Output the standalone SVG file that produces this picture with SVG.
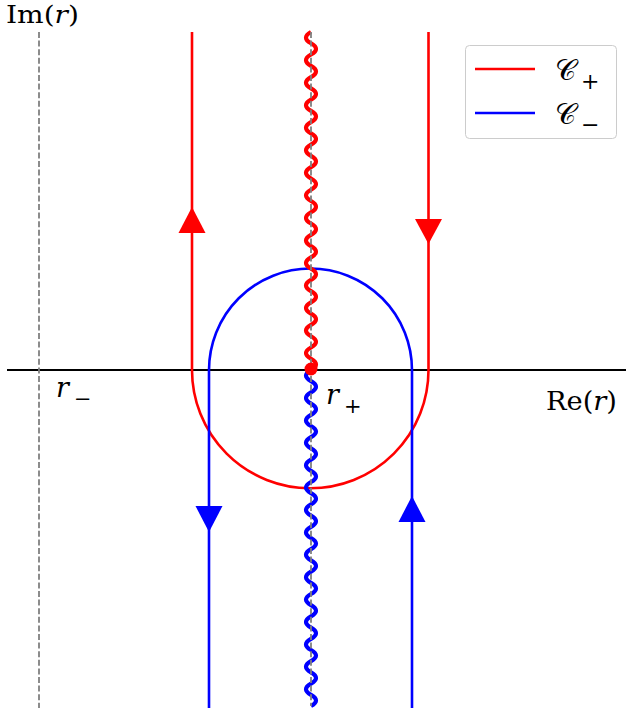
<svg xmlns="http://www.w3.org/2000/svg" width="626" height="715" viewBox="0 0 626 715">
<style>
.lab{font-family:"DejaVu Serif","Liberation Serif",serif;fill:#000}
.it{font-style:italic}
.red{stroke:#ff0000;fill:none;stroke-width:2.6}
.blue{stroke:#0000ff;fill:none;stroke-width:2.6}
.wave{fill:none;stroke-width:4.2}
.gdash{stroke:#808080;stroke-width:1.8;stroke-dasharray:6 2.6;fill:none}
</style>
<rect width="626" height="715" fill="#ffffff"/>
<g id="axes">
<line x1="7" y1="370" x2="626" y2="370" stroke="#000" stroke-width="2"/>
<line class="gdash" x1="39" y1="32" x2="39" y2="708"/>
</g>
<g id="connectors">
<path id="c-plus" class="red" d="M192 32 V370 A118.25 118.25 0 0 0 428.5 370 V32"/>
<path id="c-minus" class="blue" d="M209 708 V370 A101.5 101.5 0 0 1 412 370 V708"/>
<polygon fill="#ff0000" points="192,207 178.5,233 205.5,233"/>
<polygon fill="#ff0000" points="428.5,244 415,219 442,219"/>
<polygon fill="#0000ff" points="209,532 195.5,506 222.5,506"/>
<polygon fill="#0000ff" points="412,496 398.5,522 425.5,522"/>
</g>
<g id="branch-cut">
<path class="wave" stroke="#ff0000" d="M311 32 q-10 5.633 0 11.267 t0 11.267 t0 11.267 t0 11.267 t0 11.267 t0 11.267 t0 11.267 t0 11.267 t0 11.267 t0 11.267 t0 11.267 t0 11.267 t0 11.267 t0 11.267 t0 11.267 t0 11.267 t0 11.267 t0 11.267 t0 11.267 t0 11.267 t0 11.267 t0 11.267 t0 11.267 t0 11.267 t0 11.267 t0 11.267 t0 11.267 t0 11.267 t0 11.267 t0 11.267"/>
<path class="wave" stroke="#0000ff" d="M311 370 q-10 5.6 0 11.2 t0 11.2 t0 11.2 t0 11.2 t0 11.2 t0 11.2 t0 11.2 t0 11.2 t0 11.2 t0 11.2 t0 11.2 t0 11.2 t0 11.2 t0 11.2 t0 11.2 t0 11.2 t0 11.2 t0 11.2 t0 11.2 t0 11.2 t0 11.2 t0 11.2 t0 11.2 t0 11.2 t0 11.2 t0 11.2 t0 11.2 t0 11.2 t0 11.2 t0 11.2"/>
<line class="gdash" x1="311" y1="32" x2="311" y2="706" stroke-width="1.5"/>
<circle cx="311" cy="369" r="6.5" fill="#ff0000"/>
</g>
<g id="labels">
<text class="lab" x="6" y="23" font-size="24" textLength="73" lengthAdjust="spacingAndGlyphs">Im(<tspan class="it">r</tspan>)</text>
<text class="lab" x="546" y="410" font-size="26" textLength="71" lengthAdjust="spacingAndGlyphs">Re(<tspan class="it">r</tspan>)</text>
<text class="lab it" x="56" y="397" font-size="27">r</text>
<text class="lab" x="74" y="406" font-size="21">−</text>
<text class="lab it" x="326" y="404" font-size="27">r</text>
<text class="lab" x="344" y="413" font-size="21">+</text>
</g>
<g id="legend">
<rect x="465.5" y="45.5" width="151" height="93" rx="4" fill="#ffffff" fill-opacity="0.8" stroke="#cccccc" stroke-width="1"/>
<line x1="475" y1="69" x2="535" y2="69" class="red"/>
<line x1="475" y1="113" x2="535" y2="113" class="blue"/>
<text class="lab" x="555" y="80" font-size="29">𝒞</text>
<text class="lab" x="581" y="89" font-size="22">+</text>
<text class="lab" x="555" y="124" font-size="29">𝒞</text>
<text class="lab" x="581" y="132" font-size="22">−</text>
</g>
</svg>
